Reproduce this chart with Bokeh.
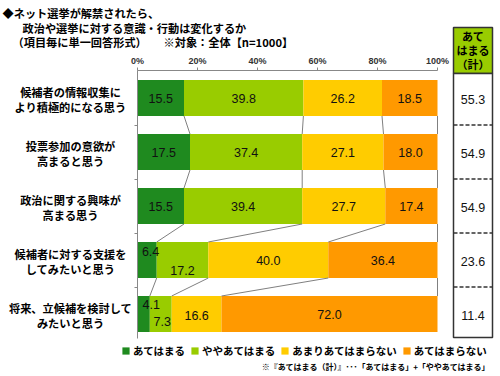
from bokeh.plotting import figure
from bokeh.models import (Range1d, LinearAxis, FixedTicker, PrintfTickFormatter,
                          Legend, LegendItem)
from bokeh.core.properties import value
from bokeh.embed import file_html
from bokeh.resources import INLINE

# ---------------- data ----------------
title_line1 = "◆ネット選挙が解禁されたら、"
title_line2 = "政治や選挙に対する意識・行動は変化するか"
title_line3a = "（項目毎に単一回答形式）"
title_line3b = "※対象：全体【n=1000】"
categories = [
    "候補者の情報収集に\nより積極的になる思う",
    "投票参加の意欲が\n高まると思う",
    "政治に関する興味が\n高まる思う",
    "候補者に対する支援を\nしてみたいと思う",
    "将来、立候補を検討して\nみたいと思う",
]
series_names = ["あてはまる", "ややあてはまる", "あまりあてはまらない", "あてはまらない"]
atehamaru = [15.5, 17.5, 15.5, 6.4, 4.1]
yaya_atehamaru = [39.8, 37.4, 39.4, 17.2, 7.3]
amari_atehamaranai = [26.2, 27.1, 27.7, 40.0, 16.6]
atehamaranai = [18.5, 18.0, 17.4, 36.4, 72.0]
total_atehamaru = [55.3, 54.9, 54.9, 23.6, 11.4]
x_ticks = [0, 20, 40, 60, 80, 100]
total_header = "あて\nはまる\n（計）"
footnote = "※『あてはまる（計）』･･･「あてはまる」+「ややあてはまる」"

# ---------------- layout helpers ----------------
W, H = 500, 376
X0_PX, PX_PER_PCT = 137.0, 3.0
Y0_PX, PX_PER_ROW = 97.5, 54.0


def dx(px):
    return (px - X0_PX) / PX_PER_PCT


def dy(py):
    return (py - Y0_PX) / PX_PER_ROW


BAR_H = 36.0 / PX_PER_ROW
JP = value("Noto Sans CJK JP")
NUM = value("Liberation Sans")

colors = ["#1f8a1f", "#99cc00", "#ffcc00", "#ff9900"]
series = [atehamaru, yaya_atehamaru, amari_atehamaranai, atehamaranai]
rows = list(range(len(categories)))

p = figure(width=W, height=H, x_range=Range1d(dx(0), dx(W)),
           y_range=Range1d(dy(H), dy(0)), output_backend="svg",
           toolbar_location=None, x_axis_location=None, y_axis_location=None,
           min_border=0, outline_line_color=None)
p.background_fill_color = "white"
p.border_fill_color = "white"
p.xgrid.grid_line_color = None
p.ygrid.grid_line_color = None

# stacked bars
lefts = [0.0] * len(rows)
cums = []
renderers = []
for vals, col in zip(series, colors):
    rights = [l + v for l, v in zip(lefts, vals)]
    r = p.hbar(y=rows, left=lefts, right=rights, height=BAR_H,
               fill_color=col, line_color=None)
    renderers.append(r)
    cums.append(rights)
    lefts = rights

# connector lines
x0s, x1s, y0s, y1s = [], [], [], []
for c in cums:
    for i in range(len(rows) - 1):
        x0s.append(c[i]); x1s.append(c[i + 1])
        y0s.append(rows[i] + BAR_H / 2); y1s.append(rows[i + 1] - BAR_H / 2)
p.segment(x0=x0s, x1=x1s, y0=y0s, y1=y1s, line_color="#808080", line_width=1)

# value labels in bars
label_offsets = {(3, 0): (3.5, -9), (3, 1): (0, 10), (4, 0): (7.5, -9.5),
                 (4, 1): (1.5, 7), (4, 2): (0, 1.5)}
lx, ly, lt = [], [], []
base = [0.0] * len(rows)
for k, vals in enumerate(series):
    for i, v in enumerate(vals):
        ox, oy = label_offsets.get((i, k), (0, 0))
        lx.append(base[i] + v / 2 + ox / PX_PER_PCT)
        ly.append(rows[i] + oy / PX_PER_ROW)
        lt.append(f"{v:.1f}")
        base[i] += v
p.text(x=lx, y=ly, text=lt, text_align="center", text_baseline="middle",
       text_font=NUM, text_font_size="12.5px", text_color="#111111")

# axes
xax = LinearAxis(fixed_location=dy(70), bounds=(0, 100),
                 ticker=FixedTicker(ticks=x_ticks),
                 formatter=PrintfTickFormatter(format="%d%%"),
                 axis_line_color="#888888", major_tick_line_color="#888888",
                 major_tick_in=0, major_tick_out=3, minor_tick_line_color=None,
                 major_label_standoff=2, major_label_text_font_size="9px",
                 major_label_text_font="Liberation Sans",
                 major_label_text_font_style="bold",
                 major_label_text_color="#333333")
p.add_layout(xax, "above")
yax = LinearAxis(fixed_location=0, bounds=(dy(70), dy(338)),
                 ticker=FixedTicker(ticks=[r + 0.5 for r in rows[:-1]]),
                 axis_line_color="#888888", major_tick_line_color="#888888",
                 major_tick_in=0, major_tick_out=3, minor_tick_line_color=None,
                 major_label_text_font_size="0px", major_label_text_alpha=0)
p.add_layout(yax, "left")

# category labels
cx, cy, ct = [], [], []
for i, cat in enumerate(categories):
    l1, l2 = cat.split("\n")
    cx += [dx(70), dx(70)]
    cy += [rows[i] - 6 / PX_PER_ROW, rows[i] + 8.5 / PX_PER_ROW]
    ct += [l1, l2]
p.text(x=cx, y=cy, text=ct, text_align="center", text_baseline="middle",
       text_font=JP, text_font_style="bold", text_font_size="11.2px",
       text_color="#000000")

# title
p.text(x=[dx(2), dx(22), dx(12), dx(163)],
       y=[dy(12), dy(27), dy(41.5), dy(41.5)],
       text=[title_line1, title_line2, title_line3a, title_line3b],
       text_align="left", text_baseline="middle", text_font=JP,
       text_font_style="bold", text_font_size="11.2px", text_color="#000000")

# right-hand total box
p.quad(left=[dx(453)], right=[dx(492)], top=[dy(27)], bottom=[dy(73)],
       fill_color="#99cc00", line_color="#333333", line_width=1.5)
p.quad(left=[dx(453)], right=[dx(492)], top=[dy(73)], bottom=[dy(337)],
       fill_color="white", line_color="#333333", line_width=1.5)
sep = [r + 0.5 for r in rows[:-1]]
p.segment(x0=[dx(453)] * len(sep), x1=[dx(492)] * len(sep), y0=sep, y1=sep,
          line_color="#333333", line_width=1.5, line_dash="4 2")
hl = total_header.split("\n")
p.text(x=[dx(472.5)] * 3, y=[dy(35), dy(49), dy(63)], text=hl,
       text_align="center", text_baseline="middle", text_font=JP,
       text_font_style="bold", text_font_size="11px", text_color="#000000")
p.text(x=[dx(472.5)] * len(rows), y=[r + 1.5 / PX_PER_ROW for r in rows],
       text=[f"{v:.1f}" for v in total_atehamaru], text_align="center",
       text_baseline="middle", text_font=NUM, text_font_size="12.5px",
       text_color="#111111")

# footnote
p.text(x=[dx(490)], y=[dy(366)], text=[footnote], text_align="right",
       text_baseline="middle", text_font=JP, text_font_style="bold",
       text_font_size="8px", text_color="#000000")

# legend
legend = Legend(items=[LegendItem(label=n, renderers=[r])
                       for n, r in zip(series_names, renderers)],
                location=(121, 18), orientation="horizontal",
                glyph_width=9, glyph_height=9, label_standoff=3, spacing=5,
                padding=0, margin=0, border_line_color=None,
                background_fill_alpha=0, label_height=12,
                label_text_font="Noto Sans CJK JP",
                label_text_font_style="bold", label_text_font_size="10.5px",
                label_text_color="#000000")
p.add_layout(legend)

open("out.html", "w").write(file_html(p, INLINE))
